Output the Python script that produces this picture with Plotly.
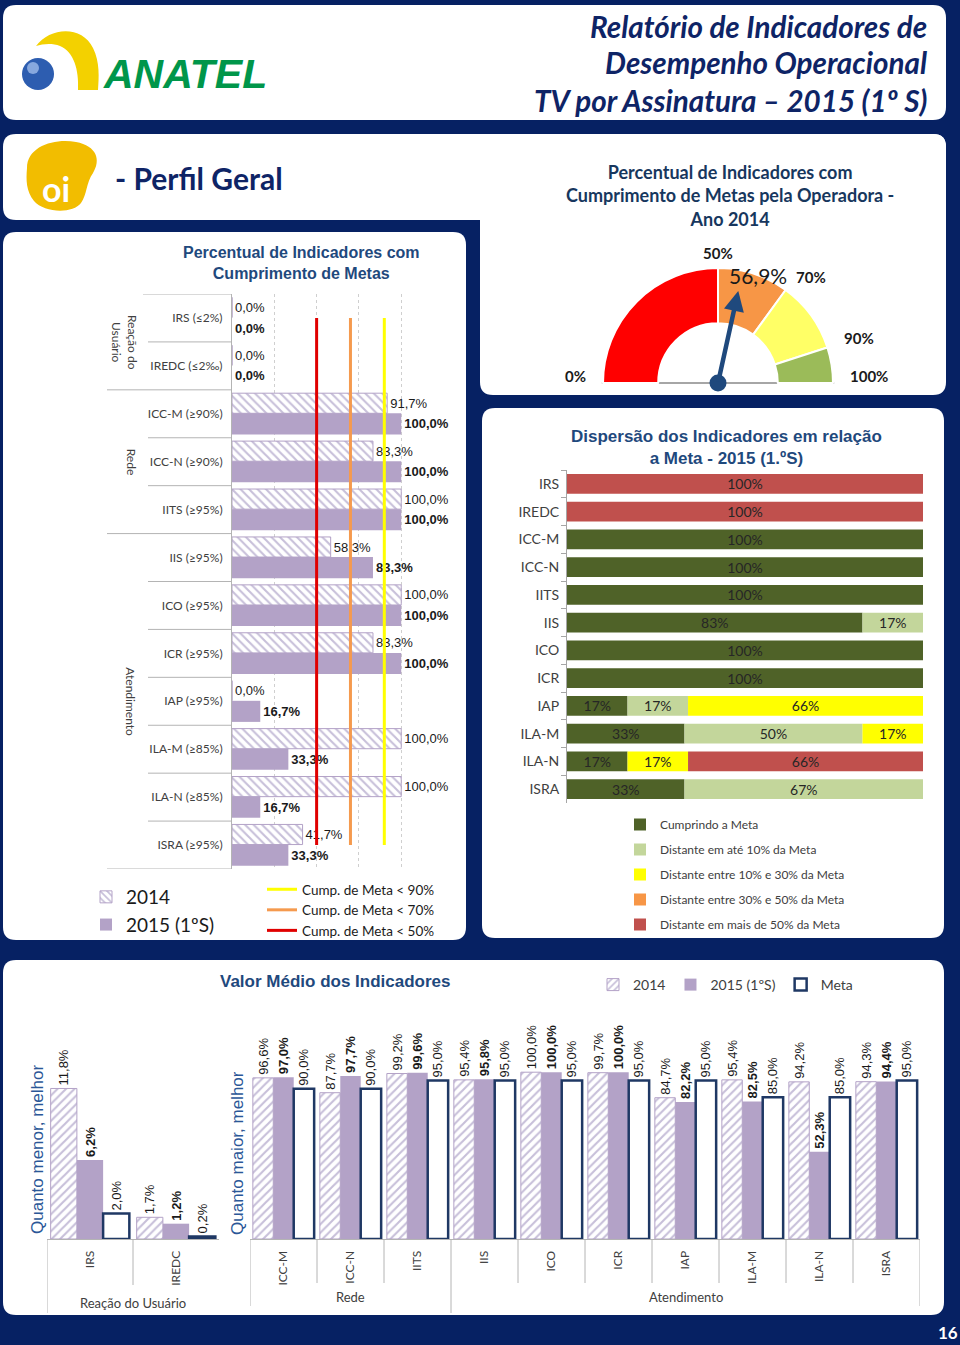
import numpy as np
import plotly.graph_objects as go

W, H = 960, 1345
def fx(p): return p / W
def fy(p): return 1 - p / H

# ---------------- DATA ----------------
# Percentual de Indicadores com Cumprimento de Metas
ind_labels = ["IRS (≤2%)", "IREDC (≤2‰)", "ICC-M (≥90%)", "ICC-N (≥90%)", "IITS (≥95%)",
              "IIS (≥95%)", "ICO (≥95%)", "ICR (≥95%)", "IAP (≥95%)", "ILA-M (≥85%)",
              "ILA-N (≥85%)", "ISRA (≥95%)"]
cump_2014 = [0.0, 0.0, 91.7, 83.3, 100.0, 58.3, 100.0, 83.3, 0.0, 100.0, 100.0, 41.7]
cump_2015 = [0.0, 0.0, 100.0, 100.0, 100.0, 83.3, 100.0, 100.0, 16.7, 33.3, 16.7, 33.3]
group_names = ["Reação do<br>Usuário", "Rede", "Atendimento"]
group_sizes = [2, 3, 7]
threshold_names = ["Cump. de Meta < 90%", "Cump. de Meta < 70%", "Cump. de Meta < 50%"]
threshold_values = [90, 70, 50]

# Gauge 2014
gauge_edges = [0, 50, 70, 90, 100]
gauge_value = 56.9

# Dispersão 2015 (1.ºS)
disp_cats = ["IRS", "IREDC", "ICC-M", "ICC-N", "IITS", "IIS", "ICO", "ICR", "IAP", "ILA-M", "ILA-N", "ISRA"]
disp_names = ["Cumprindo a Meta", "Distante em até 10% da Meta", "Distante entre 10% e 30% da Meta",
              "Distante entre 30% e 50% da Meta", "Distante em mais de 50% da Meta"]
disp_cumprindo = [0, 0, 100, 100, 100, 83, 100, 100, 17, 33, 17, 33]
disp_ate10 = [0, 0, 0, 0, 0, 17, 0, 0, 17, 50, 0, 67]
disp_10a30 = [0, 0, 0, 0, 0, 0, 0, 0, 66, 17, 17, 0]
disp_30a50 = [0, 0, 0, 0, 0, 0, 0, 0, 0, 0, 0, 0]
disp_mais50 = [100, 100, 0, 0, 0, 0, 0, 0, 0, 0, 66, 0]

# Valor Médio dos Indicadores
med_groups = ["Reação do Usuário", "Rede", "Atendimento"]
med_left_cats = ["IRS", "IREDC"]
med_left_2014 = [11.8, 1.7]
med_left_2015 = [6.2, 1.2]
med_left_meta = [2.0, 0.2]
med_right_cats = ["ICC-M", "ICC-N", "IITS", "IIS", "ICO", "ICR", "IAP", "ILA-M", "ILA-N", "ISRA"]
med_right_group_sizes = [3, 7]
med_right_2014 = [96.6, 87.7, 99.2, 95.4, 100.0, 99.7, 84.7, 95.4, 94.2, 94.3]
med_right_2015 = [97.0, 97.7, 99.6, 95.8, 100.0, 100.0, 82.2, 82.5, 52.3, 94.4]
med_right_meta = [90.0, 90.0, 95.0, 95.0, 95.0, 95.0, 95.0, 85.0, 85.0, 95.0]

# ---------------- STYLE ----------------
NAVY_BG = "#062163"
NAVY_TXT = "#0e2466"
TITLE_BLUE = "#1f497d"
YT_BLUE = "#2b5797"
LAV = "#b3a2c7"
LAV_HATCH = "#8f7fb3"
META_EDGE = "#1f3864"
TXT = "#1a1a1a"
LBL = "#404040"
LINEG = "#b4b4b4"
CAL = "Lato"
ARIAL = "Liberation Sans"


def fmt(v):
    return f"{v:.1f}%".replace(".", ",")


def P(x, y):
    return f"{fx(x):.5f},{fy(y):.5f}"


def rr(x0, y0, x1, y1, r):
    return (f"M {P(x0 + r, y0)} L {P(x1 - r, y0)} Q {P(x1, y0)} {P(x1, y0 + r)} "
            f"L {P(x1, y1 - r)} Q {P(x1, y1)} {P(x1 - r, y1)} L {P(x0 + r, y1)} "
            f"Q {P(x0, y1)} {P(x0, y1 - r)} L {P(x0, y0 + r)} Q {P(x0, y0)} {P(x0 + r, y0)} Z")


fig = go.Figure()
shapes = []
ann = []

# ---------------- PANELS ----------------
for box in [(3, 5, 946, 120), (3, 134, 946, 220), (480, 134, 946, 395), (3, 232, 466, 940),
            (482, 408, 944, 938), (3, 960, 944, 1315)]:
    shapes.append(dict(type="path", path=rr(*box, 13), xref="paper", yref="paper",
                       fillcolor="white", line=dict(width=0), layer="below"))

# ANATEL logo
shapes.append(dict(type="path", xref="paper", yref="paper", layer="below", line=dict(width=0),
                   fillcolor="#f3d100",
                   path=(f"M {P(36,46)} C {P(50,27)} {P(82,25)} {P(93,48)} C {P(100,62)} {P(99,78)} {P(98,90)} "
                         f"L {P(78,90)} C {P(79,70)} {P(74,52)} {P(60,46)} C {P(52,43)} {P(43,44)} {P(36,46)} Z")))
shapes.append(dict(type="circle", xref="paper", yref="paper", layer="below", line=dict(width=0),
                   fillcolor="#2d5db0", x0=fx(22), x1=fx(54), y0=fy(90), y1=fy(58)))
shapes.append(dict(type="circle", xref="paper", yref="paper", layer="below", line=dict(width=0),
                   fillcolor="#9dbbea", opacity=0.8, x0=fx(27), x1=fx(39), y0=fy(74), y1=fy(62)))
ann.append(dict(text="ANATEL", x=fx(101), y=fy(74), xref="paper", yref="paper", xanchor="left",
                yanchor="middle", showarrow=False,
                font=dict(family=ARIAL, size=41, color="#00964a", weight="bold", style="italic")))

# Header title
for txt, yy in zip(["Relatório de Indicadores de", "Desempenho Operacional",
                    "TV por Assinatura – 2015 (1º S)"], [27, 63, 100]):
    ann.append(dict(text=txt, x=fx(929), y=fy(yy), xref="paper", yref="paper", xanchor="right",
                    yanchor="middle", showarrow=False,
                    font=dict(family=CAL, size=29.6, color=NAVY_TXT, weight="bold", style="italic")))

# Oi logo
shapes.append(dict(type="path", xref="paper", yref="paper", layer="below", line=dict(width=0),
                   fillcolor="#f2bd00",
                   path=(f"M {P(27,168)} C {P(27,146)} {P(55,138)} {P(76,142)} C {P(97,146)} {P(101,160)} {P(93,173)} "
                         f"C {P(86,183)} {P(87,195)} {P(81,203)} C {P(73,214)} {P(44,213)} {P(34,201)} "
                         f"C {P(26,191)} {P(26,180)} {P(27,168)} Z")))
ann.append(dict(text="oi", x=fx(56), y=fy(189), xref="paper", yref="paper", showarrow=False,
                font=dict(family=CAL, size=34, color="white", weight="bold")))
ann.append(dict(text="- Perfil Geral", x=fx(113), y=fy(178), xref="paper", yref="paper", xanchor="left",
                showarrow=False, font=dict(family=CAL, size=30, color=NAVY_TXT, weight="bold")))

# ---------------- LEFT CHART ----------------
lav_pattern_l = dict(shape="\\", fgcolor=LAV_HATCH, bgcolor="white", size=6, solidity=0.35)
fig.add_trace(go.Bar(y=ind_labels, x=cump_2014, orientation="h", xaxis="x", yaxis="y",
                     width=0.42, offset=-0.43, name="2014", legend="legend",
                     marker=dict(color=LAV, line=dict(color=LAV, width=1), pattern=lav_pattern_l),
                     text=[fmt(v) for v in cump_2014], textposition="outside", cliponaxis=False,
                     constraintext="none", textfont=dict(family=ARIAL, size=13, color=TXT),
                     hoverinfo="skip"))
fig.add_trace(go.Bar(y=ind_labels, x=cump_2015, orientation="h", xaxis="x", yaxis="y",
                     width=0.44, offset=-0.01, name="2015 (1ºS)", legend="legend",
                     marker=dict(color=LAV, line=dict(width=0)),
                     text=[fmt(v) for v in cump_2015], textposition="outside", cliponaxis=False,
                     constraintext="none", textfont=dict(family=ARIAL, size=13, color=TXT, weight="bold"),
                     hoverinfo="skip"))
for name, v, col in zip(threshold_names, threshold_values, ["#ffff00", "#f59a4e", "#e00000"]):
    fig.add_trace(go.Scatter(x=[v, v], y=[ind_labels[0], ind_labels[-1]], mode="lines",
                             xaxis="x", yaxis="y", line=dict(color=col, width=3), name=name,
                             legend="legend2", hoverinfo="skip", cliponaxis=False))

# table lines & group labels
start = 0
for gi, (gname, gs) in enumerate(zip(group_names, group_sizes)):
    shapes.append(dict(type="line", xref="paper", yref="y", x0=fx(107 if gi > 0 else 143), x1=fx(232),
                       y0=start - 0.5, y1=start - 0.5, line=dict(color=LINEG, width=1)))
    for k in range(1, gs):
        shapes.append(dict(type="line", xref="paper", yref="y", x0=fx(148), x1=fx(232),
                           y0=start + k - 0.5, y1=start + k - 0.5, line=dict(color=LINEG, width=1)))
    ann.append(dict(text=gname, xref="paper", yref="y", x=fx(124 if gi == 0 else 131),
                    y=start + (gs - 1) / 2, textangle=90, showarrow=False,
                    font=dict(family=CAL, size=12, color=LBL)))
    start += gs
shapes.append(dict(type="line", xref="paper", yref="y", x0=fx(107), x1=fx(232),
                   y0=start - 0.5, y1=start - 0.5, line=dict(color=LINEG, width=1)))

ann.append(dict(text="Percentual de Indicadores com<br>Cumprimento de Metas", x=fx(301), y=fy(263),
                xref="paper", yref="paper", showarrow=False,
                font=dict(family=ARIAL, size=16, color=TITLE_BLUE, weight="bold")))

# ---------------- GAUGE ----------------
g_colors = ["#ff0000", "#f79646", "#ffff66", "#9bbb59"]
bands = list(np.diff(gauge_edges))
fig.add_trace(go.Pie(values=bands + [sum(bands)], sort=False, direction="clockwise", rotation=270,
                     hole=0.52, textinfo="none", hoverinfo="skip", showlegend=False,
                     marker=dict(colors=g_colors + ["rgba(0,0,0,0)"],
                                 line=dict(color=["white"] * 4 + ["rgba(0,0,0,0)"], width=[2, 2, 2, 2, 0])),
                     domain=dict(x=[fx(603), fx(833)], y=[fy(498), fy(268)])))
theta = np.pi * (1 - gauge_value / 100)
tip = (0.82 * np.cos(theta), 0.82 * np.sin(theta))
shapes.append(dict(type="line", xref="x5", yref="y5", x0=-1.01, x1=1.01, y0=0, y1=0,
                   line=dict(color="#a6a6a6", width=2), layer="below"))
ann.append(dict(x=tip[0], y=tip[1], ax=0, ay=0, xref="x5", yref="y5", axref="x5", ayref="y5",
                text="", showarrow=True, arrowhead=2, arrowsize=0.9, arrowwidth=4.5,
                arrowcolor="#1f497d"))
fig.add_trace(go.Scatter(x=[0], y=[0], xaxis="x5", yaxis="y5", mode="markers",
                         marker=dict(size=17, color="#1f497d"), showlegend=False,
                         hoverinfo="skip", cliponaxis=False))
for e in gauge_edges:
    a = np.pi * (1 - e / 100)
    c = np.cos(a)
    xa = "left" if c > 0.3 else ("right" if c < -0.3 else "center")
    ann.append(dict(text=f"{e}%", x=1.13 * c, y=1.07 * np.sin(a) + 0.06, xref="x5", yref="y5",
                    xanchor=xa, showarrow=False, font=dict(family=CAL, size=15, color=TXT, weight="bold")))
ann.append(dict(text=fmt(gauge_value), x=0.97 * np.cos(theta) + 0.14, y=0.97 * np.sin(theta) - 0.01,
                xref="x5", yref="y5", showarrow=False,
                font=dict(family=CAL, size=21, color=TXT)))
ann.append(dict(text="Percentual de Indicadores com<br>Cumprimento de Metas pela Operadora -<br>Ano 2014",
                x=fx(730), y=fy(195), xref="paper", yref="paper", showarrow=False,
                font=dict(family=CAL, size=18, color="#17375e", weight="bold")))

# ---------------- DISPERSÃO ----------------
disp_series = [disp_cumprindo, disp_ate10, disp_10a30, disp_30a50, disp_mais50]
disp_colors = ["#4f6228", "#c3d69b", "#ffff00", "#f79646", "#c0504d"]
base = np.zeros(len(disp_cats))
for name, vals, col in zip(disp_names, disp_series, disp_colors):
    vals = np.array(vals, dtype=float)
    fig.add_trace(go.Bar(y=disp_cats, x=vals, base=base.copy(), orientation="h", width=0.72,
                         xaxis="x2", yaxis="y2", name=name, legend="legend3", legendgroup=name,
                         marker=dict(color=col, line=dict(width=0)),
                         text=[f"{v:.0f}%" if v > 0 else "" for v in vals], textposition="inside",
                         insidetextanchor="middle", constraintext="none",
                         textfont=dict(family=CAL, size=14, color="#262626"), hoverinfo="skip"))
    base += vals
ann.append(dict(text="Dispersão dos Indicadores em relação<br>a Meta - 2015 (1.ºS)", x=fx(726), y=fy(448),
                xref="paper", yref="paper", showarrow=False,
                font=dict(family=ARIAL, size=17, color=TITLE_BLUE, weight="bold")))

# ---------------- VALOR MÉDIO ----------------
pat_b = dict(shape="/", fgcolor=LAV_HATCH, bgcolor="white", size=6, solidity=0.35)
for cats, v14, v15, vm, xa, ya, show in [
        (med_left_cats, med_left_2014, med_left_2015, med_left_meta, "x3", "y3", False),
        (med_right_cats, med_right_2014, med_right_2015, med_right_meta, "x4", "y4", True)]:
    common = dict(xaxis=xa, yaxis=ya, width=0.305, textposition="outside", textangle=-90,
                  cliponaxis=False, constraintext="none", hoverinfo="skip", legend="legend4",
                  showlegend=show)
    fig.add_trace(go.Bar(x=cats, y=v14, offset=-0.4575, name="2014",
                         marker=dict(color=LAV, line=dict(color=LAV, width=1), pattern=pat_b),
                         text=[fmt(v) for v in v14], textfont=dict(family=ARIAL, size=13, color=TXT),
                         **common))
    fig.add_trace(go.Bar(x=cats, y=v15, offset=-0.1525, name="2015 (1ºS)",
                         marker=dict(color=LAV, line=dict(width=0)),
                         text=[fmt(v) for v in v15],
                         textfont=dict(family=ARIAL, size=13, color=TXT, weight="bold"), **common))
    fig.add_trace(go.Bar(x=cats, y=vm, offset=0.1525, name="Meta",
                         marker=dict(color="white", line=dict(color=META_EDGE, width=2.5)),
                         text=[fmt(v) for v in vm], textfont=dict(family=ARIAL, size=13, color=TXT),
                         **common))

# category dividers (bottom)
shapes.append(dict(type="line", xref="x3", yref="paper", x0=-0.5, x1=-0.5, y0=fy(1240), y1=fy(1313),
                   line=dict(color=LINEG, width=1)))
for k in range(len(med_left_cats) - 1):
    shapes.append(dict(type="line", xref="x3", yref="paper", x0=k + 0.5, x1=k + 0.5, y0=fy(1240),
                       y1=fy(1285), line=dict(color=LINEG, width=1)))
ann.append(dict(text=med_groups[0], xref="x3", yref="paper", x=(len(med_left_cats) - 1) / 2, y=fy(1303),
                showarrow=False, font=dict(family=CAL, size=13, color=LBL)))
edges = np.cumsum([0] + med_right_group_sizes)
for k in range(len(med_right_cats) + 1):
    xk = k - 0.5
    if k in edges:
        yb = 1313 if 0 < k < len(med_right_cats) else 1306
    else:
        yb = 1283
    shapes.append(dict(type="line", xref="x4", yref="paper", x0=xk, x1=xk, y0=fy(1240), y1=fy(yb),
                       line=dict(color=LINEG, width=1)))
for gi, gname in enumerate(med_groups[1:]):
    ann.append(dict(text=gname, xref="x4", yref="paper", x=(edges[gi] + edges[gi + 1] - 1) / 2,
                    y=fy(1297), showarrow=False, font=dict(family=CAL, size=13, color=LBL)))

ann.append(dict(text="Valor Médio dos Indicadores", x=fx(335), y=fy(982), xref="paper", yref="paper",
                showarrow=False, font=dict(family=ARIAL, size=17, color=TITLE_BLUE, weight="bold")))
ann.append(dict(text="Quanto menor, melhor", x=fx(37), y=fy(1150), xref="paper", yref="paper",
                textangle=-90, showarrow=False, font=dict(family=ARIAL, size=17, color=YT_BLUE)))
ann.append(dict(text="Quanto maior, melhor", x=fx(237), y=fy(1153), xref="paper", yref="paper",
                textangle=-90, showarrow=False, font=dict(family=ARIAL, size=17, color=YT_BLUE)))

# page number
ann.append(dict(text="16", x=fx(948), y=fy(1332), xref="paper", yref="paper", showarrow=False,
                font=dict(family=CAL, size=17, color="white", weight="bold")))

for a in ann:
    a.setdefault("xanchor", "center")
    a.setdefault("yanchor", "middle")

# ---------------- LAYOUT ----------------
hidden = dict(visible=False, fixedrange=True)
fig.update_layout(
    width=W, height=H, margin=dict(l=0, r=0, t=0, b=0),
    paper_bgcolor=NAVY_BG, plot_bgcolor="rgba(0,0,0,0)",
    barmode="overlay", shapes=shapes, annotations=ann,
    xaxis=dict(domain=[fx(232), fx(452)], range=[0, 130], anchor="y", tickvals=[25, 50, 75, 100],
               showticklabels=False, showgrid=True, gridcolor="#cfcfcf", griddash="dot", gridwidth=1,
               zeroline=False, showline=False, ticks=""),
    yaxis=dict(domain=[fy(869), fy(294)], anchor="x", type="category", range=[11.5, -0.5],
               showline=True, linecolor=LINEG, linewidth=1, ticks="", showgrid=False,
               tickfont=dict(family=CAL, size=12, color=LBL), ticklabelstandoff=6),
    xaxis2=dict(domain=[fx(567), fx(923)], range=[0, 100], anchor="y2", visible=False),
    yaxis2=dict(domain=[fy(803), fy(470)], anchor="x2", type="category", range=[11.5, -0.5],
                showline=True, linecolor="#a6a6a6", ticks="outside", tickson="boundaries", ticklen=5,
                tickcolor="#a6a6a6", showgrid=False, ticklabelstandoff=4,
                tickfont=dict(family=CAL, size=14, color=LBL)),
    xaxis3=dict(domain=[fx(47), fx(219)], anchor="y3", type="category", range=[-0.5, 1.5],
                showline=True, linecolor=LINEG, ticks="", tickangle=-90, showgrid=False,
                tickfont=dict(family=CAL, size=12, color=LBL), ticklabelstandoff=6),
    yaxis3=dict(domain=[fy(1239), fy(1040)], anchor="x3", range=[0, 15.6], visible=False),
    xaxis4=dict(domain=[fx(250), fx(920)], anchor="y4", type="category", range=[-0.5, 9.5],
                showline=True, linecolor=LINEG, ticks="", tickangle=-90, showgrid=False,
                tickfont=dict(family=CAL, size=12, color=LBL), ticklabelstandoff=6),
    yaxis4=dict(domain=[fy(1239), fy(1040)], anchor="x4", range=[0, 119.3], visible=False),
    xaxis5=dict(domain=[fx(558), fx(878)], anchor="y5", range=[-1.3913, 1.3913], **hidden),
    yaxis5=dict(domain=[fy(400), fy(235)], anchor="x5", range=[-0.1478, 1.287], **hidden),
    legend=dict(x=fx(86), y=fy(878), xanchor="left", yanchor="top", bgcolor="rgba(0,0,0,0)",
                font=dict(family=CAL, size=19, color=TXT), traceorder="normal"),
    legend2=dict(x=fx(262), y=fy(874), xanchor="left", yanchor="top", bgcolor="rgba(0,0,0,0)",
                 font=dict(family=CAL, size=13.5, color=TXT), traceorder="normal"),
    legend3=dict(x=fx(620), y=fy(810), xanchor="left", yanchor="top", bgcolor="rgba(0,0,0,0)",
                 font=dict(family=CAL, size=12, color=LBL), traceorder="grouped", tracegroupgap=6),
    legend4=dict(x=fx(593), y=fy(969), xanchor="left", yanchor="top", orientation="h",
                 bgcolor="rgba(0,0,0,0)", font=dict(family=CAL, size=14, color=LBL), traceorder="normal"),
)

fig.write_html("out.html")
